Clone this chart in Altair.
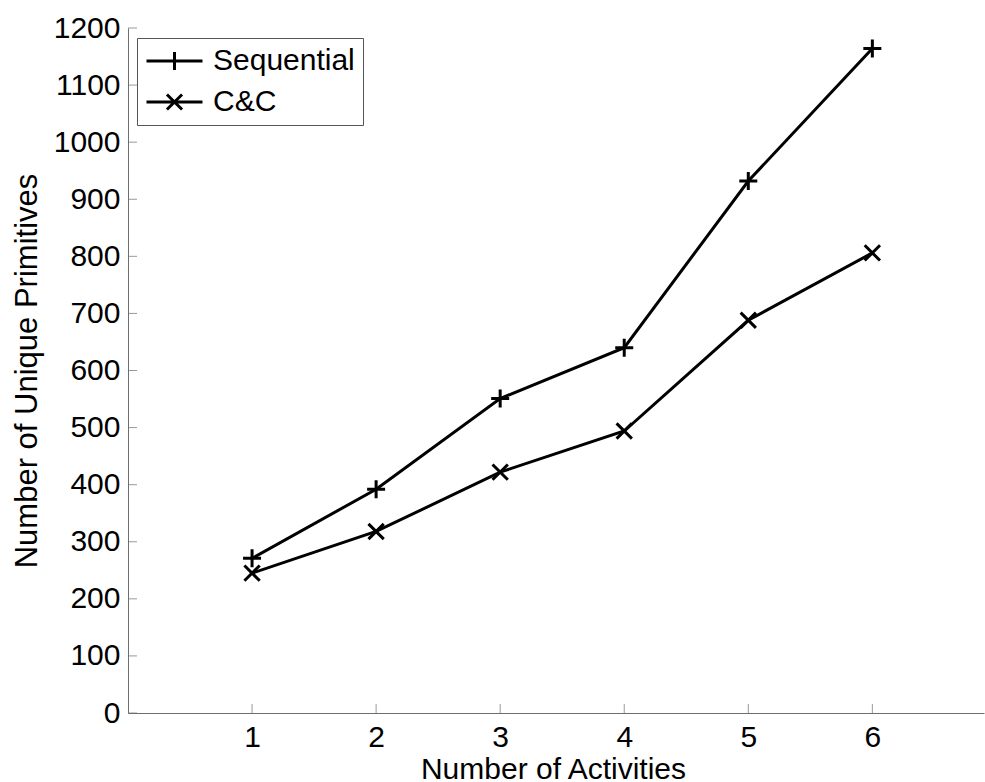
import altair as alt
import pandas as pd

activities = [1, 2, 3, 4, 5, 6]
sequential = [271, 392, 551, 640, 932, 1164]
cc = [245, 318, 422, 494, 688, 806]
series_names = ["Sequential", "C&C"]
x_ticks = [1, 2, 3, 4, 5, 6]
y_ticks = list(range(0, 1201, 100))

df = pd.DataFrame({
    "x": activities * 2,
    "y": sequential + cc,
    "series": [series_names[0]] * len(activities) + [series_names[1]] * len(activities),
})
xt = pd.DataFrame({"x": x_ticks})
yt = pd.DataFrame({"y": y_ticks})

FONT = "Liberation Sans"
AX = "#6e6e6e"

xscale = alt.Scale(domain=[0, 6.9], nice=False, zero=False)
yscale = alt.Scale(domain=[0, 1200], nice=False)

X = alt.X("x:Q", scale=xscale, axis=alt.Axis(
    values=x_ticks, format="d", title="Number of Activities", ticks=False, tickSize=0,
    labelPadding=33, labelBaseline="alphabetic", labelFontSize=30, labelFont=FONT,
    labelColor="black", grid=False, domainColor=AX, domainWidth=1,
    titleFontSize=30, titleFont=FONT, titleFontWeight="normal", titleColor="black",
    titleX=425, titleY=65, titleBaseline="alphabetic", titleAnchor="middle"))
Y = alt.Y("y:Q", scale=yscale, axis=alt.Axis(
    values=y_ticks, format="d", title="Number of Unique Primitives", ticks=False, tickSize=0,
    labelPadding=8, labelFontSize=30, labelFont=FONT, labelColor="black",
    grid=False, domainColor=AX, domainWidth=1,
    titleFontSize=31, titleFont=FONT, titleFontWeight="normal", titleColor="black",
    titleX=-101, titleBaseline="middle"))

lines = alt.Chart(df).mark_line(color="black", strokeWidth=3).encode(
    x=X, y=Y, detail="series:N")

marker_paths = ["M-1,0L1,0M0,-1L0,1", "M-0.85,-0.85L0.85,0.85M-0.85,0.85L0.85,-0.85"]
points = alt.Chart(df).mark_point(filled=False, color="black", strokeWidth=3, size=324, opacity=1).encode(
    x="x:Q", y="y:Q",
    shape=alt.Shape("series:N", scale=alt.Scale(domain=series_names, range=marker_paths), legend=None))

legend_paths = ["M-1,0L1,0M0,-0.32L0,0.32",
                "M-1,0L1,0M-0.27,-0.27L0.27,0.27M-0.27,0.27L0.27,-0.27"]
legend_layer = alt.Chart(df).mark_point(filled=False, color="black", strokeWidth=3, opacity=0).encode(
    x="x:Q", y="y:Q",
    shape=alt.Shape("series:N", scale=alt.Scale(domain=series_names, range=legend_paths),
                    legend=alt.Legend(orient="none", legendX=9, legendY=10, title=None,
                                      strokeColor="#555555", fillColor="white", padding=8,
                                      labelFontSize=30, labelFont=FONT, labelColor="black",
                                      labelOffset=9, symbolSize=3136, symbolStrokeWidth=3,
                                      symbolStrokeColor="black", symbolFillColor="transparent",
                                      symbolOpacity=1, clipHeight=30, rowPadding=11)))

xticks = alt.Chart(xt).mark_tick(orient="vertical", size=9, thickness=1, color=AX, yOffset=-4.5).encode(
    x="x:Q", y=alt.datum(0))
yticks = alt.Chart(yt).mark_tick(orient="horizontal", size=9, thickness=1, color=AX, xOffset=4.5).encode(
    y="y:Q", x=alt.datum(0))

chart = alt.layer(xticks, yticks, lines, points, legend_layer).resolve_scale(
    shape="independent"
).properties(
    width=856, height=685,
    autosize=alt.AutoSizeParams(type="none"),
    padding={"left": 128, "top": 28, "right": 1, "bottom": 69},
    background="white",
).configure_view(stroke=None)

chart.save("out.html", embed_options={"renderer": "svg", "actions": False})
